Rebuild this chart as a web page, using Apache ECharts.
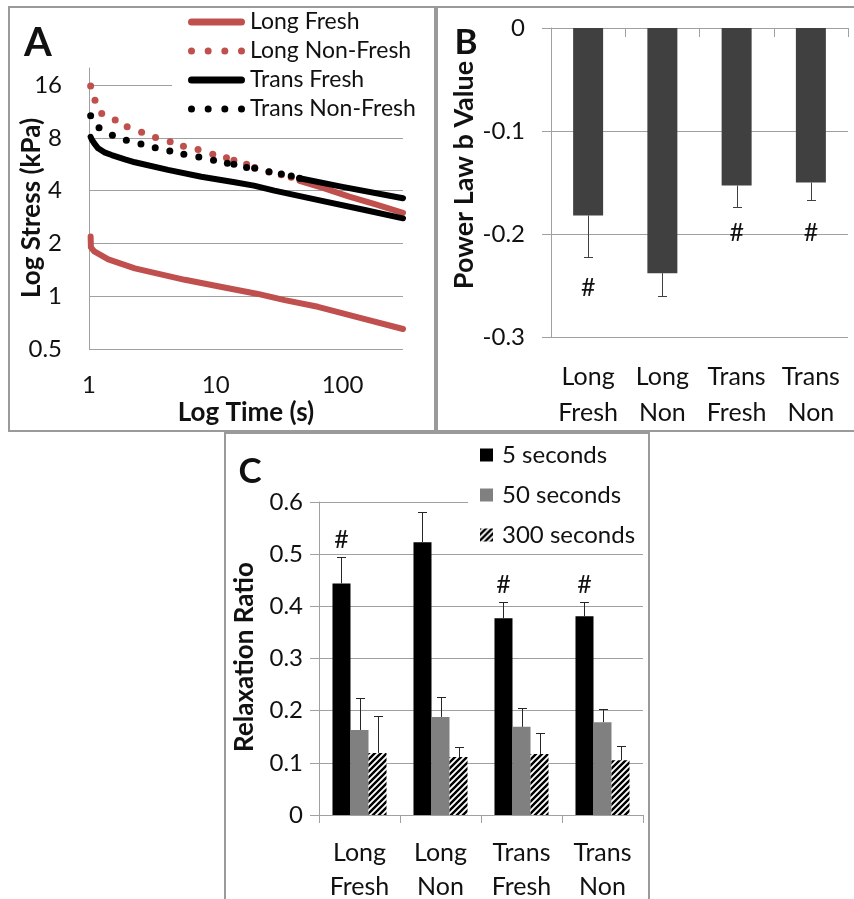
<!DOCTYPE html>
<html><head><meta charset="utf-8">
<script src="https://cdn.jsdelivr.net/npm/echarts@6/dist/echarts.min.js"></script>
<style>html,body{margin:0;padding:0;background:#fff}#c{width:854px;height:899px}</style>
</head><body><div id="c"></div>
<script>
// ---------- Panel A data (log stress vs log time) ----------
const timesLongFresh   = [1.03, 1.035, 1.1, 1.42, 2.3, 5.7, 10.4, 21.5, 35, 64, 140, 300];
const stressLongFresh  = [2.19, 1.9, 1.8, 1.62, 1.44, 1.24, 1.14, 1.03, 0.95, 0.87, 0.75, 0.65];
const timesTransFresh  = [1.03, 1.05, 1.1, 1.18, 1.34, 1.51, 1.92, 2.3, 4.2, 7.7, 14.1, 20, 29, 66, 150, 300];
const stressTransFresh = [8.1, 7.84, 7.44, 6.97, 6.58, 6.38, 6.03, 5.8, 5.25, 4.8, 4.46, 4.27, 4.0, 3.52, 3.1, 2.78];
const timesLongNonDots  = [1.03, 1.115, 1.26, 1.61, 2.0, 2.6, 3.35, 4.37, 5.56, 7.25, 9.47, 12.15, 13.9, 17.5, 20.3, 26.3, 32.9, 39.4];
const stressLongNonDots = [15.8, 13.1, 11.0, 10.1, 9.25, 8.6, 8.04, 7.6, 7.15, 6.85, 6.45, 6.16, 5.95, 5.65, 5.42, 5.1, 4.92, 4.76];
const timesLongNonTail  = [45.8, 70, 113, 180, 300];
const stressLongNonTail = [4.55, 4.15, 3.7, 3.35, 2.99];
const timesTransNonDots  = [1.03, 1.20, 1.53, 1.97, 2.57, 3.33, 4.34, 5.6, 7.35, 9.6, 12.35, 13.9, 17.5, 20.3, 26.3, 32.9, 39.4, 45.8];
const stressTransNonDots = [10.7, 9.14, 8.27, 7.74, 7.37, 7.03, 6.73, 6.45, 6.22, 5.95, 5.73, 5.65, 5.42, 5.36, 5.12, 4.98, 4.85, 4.7];
const timesTransNonTail  = [45.8, 100, 300];
const stressTransNonTail = [4.7, 4.2, 3.62];

// ---------- Panel B data (power law b value) ----------
const groupLabels = ['Long\nFresh', 'Long\nNon', 'Trans\nFresh', 'Trans\nNon'];
const bValues = [-0.182, -0.238, -0.153, -0.150];
const bSD     = [0.040, 0.022, 0.021, 0.017];
const bHash   = [-0.252, null, -0.199, -0.199];

// ---------- Panel C data (relaxation ratio) ----------
const c5s    = [0.444, 0.523, 0.377, 0.381];
const c5sSD  = [0.050, 0.057, 0.031, 0.027];
const c50s   = [0.163, 0.188, 0.169, 0.178];
const c50sSD = [0.061, 0.038, 0.036, 0.025];
const c300s  = [0.119, 0.111, 0.117, 0.105];
const c300sSD= [0.071, 0.019, 0.040, 0.027];
const cHash  = [0.527, null, 0.441, 0.441];

const FONT = 'Lato, "Open Sans", sans-serif';
const RED = '#C0504D';
const GRID_C = '#a0a0a0';
const TXT = '#111';

const pairs = (t, v) => t.map((x, i) => [x, v[i]]);

// hatch pattern
const hatch = document.createElement('canvas');
hatch.width = 6; hatch.height = 6;
(function(){
  const g = hatch.getContext('2d');
  g.fillStyle = '#fff'; g.fillRect(0,0,6,6);
  g.strokeStyle = '#000'; g.lineWidth = 2.4;
  g.beginPath();
  g.moveTo(-1,7); g.lineTo(7,-1);
  g.moveTo(-4,4); g.lineTo(4,-4);
  g.moveTo(2,10); g.lineTo(10,2);
  g.stroke();
})();
const HATCH = {image: hatch, repeat: 'repeat'};

const ICON_SOLID = 'path://M3.5,0H53.5A3.5,3.5,0,0,1,53.5,7H3.5A3.5,3.5,0,0,1,3.5,0Z';
const dotCx = [3.5, 20.17, 36.83, 53.5];
const ICON_DOTS = 'path://' + dotCx.map(c => `M${c-3.5},3.5a3.5,3.5 0 1,0 7,0a3.5,3.5 0 1,0 -7,0Z`).join('');

function solidLine(name, t, v, color, z) {
  return {type:'line', name, xAxisIndex:0, yAxisIndex:0, data: pairs(t, v),
    symbol:'none', showSymbol:false, z, silent:true,
    lineStyle:{color, width:6, cap:'round', join:'round'}, itemStyle:{color}};
}
function dotLine(name, t, v, color, z) {
  return {type:'line', name, xAxisIndex:0, yAxisIndex:0, data: pairs(t, v),
    symbol:'circle', symbolSize:7, showSymbol:true, z, silent:true,
    lineStyle:{width:0, opacity:0}, itemStyle:{color}};
}

function errRender(offsetK, color) {
  return function(params, api) {
    const cat = api.value(0), k = api.value(1);
    const band = api.size([1, 0])[0];
    const bw = offsetK ? band * (1 - 0.333) / 3 : 0;
    const p0 = api.coord([cat, api.value(2)]);
    const p1 = api.coord([cat, api.value(3)]);
    const x = Math.round(p0[0] + (k - 1) * bw) + 0.5;
    const y1 = Math.round(p1[1]) + 0.5;
    return {type:'group', children:[
      {type:'line', shape:{x1:x, y1:p0[1], x2:x, y2:y1}, style:{stroke:color, lineWidth:1}},
      {type:'line', shape:{x1:x-4.5, y1:y1, x2:x+4.5, y2:y1}, style:{stroke:color, lineWidth:1}}
    ]};
  };
}
function hashRender(offsetK) {
  return function(params, api) {
    const cat = api.value(0), k = api.value(1);
    const band = api.size([1, 0])[0];
    const bw = offsetK ? band * (1 - 0.333) / 3 : 0;
    const p = api.coord([cat, api.value(2)]);
    return {type:'text', x: p[0] + (k - 1) * bw, y: p[1],
      style:{text:'#', font:'25px ' + FONT, fill:TXT, align:'center', verticalAlign:'middle'}};
  };
}

const bErrData = bValues.map((v, i) => [i, 1, v, v - bSD[i]]);
const bHashData = bHash.map((v, i) => v == null ? null : [i, 1, v]).filter(d => d);
const cErrData = [];
[[c5s, c5sSD], [c50s, c50sSD], [c300s, c300sSD]].forEach(([vals, sds], k) => {
  vals.forEach((v, i) => cErrData.push([i, k, v, v + sds[i]]));
});
const cHashData = cHash.map((v, i) => v == null ? null : [i, 0, v]).filter(d => d);

const tickLabel = {fontFamily: FONT, fontSize: 24, color: TXT};
const catLabelB = {fontFamily: FONT, fontSize: 25, color: TXT, lineHeight: 36, margin: 22, interval: 0};
const catLabelC = {fontFamily: FONT, fontSize: 25, color: TXT, lineHeight: 34, margin: 21, interval: 0};

function txt(text, x, y, font, rot) {
  return {type:'text', x, y, rotation: rot || 0, z: 50,
    style:{text, font, fill:TXT, align:'center', verticalAlign:'middle'}};
}
function frame(x, y, w, h) {
  return {type:'rect', z: 100, shape:{x, y, width:w, height:h},
    style:{fill:'none', stroke:'#9a9a9a', lineWidth:2}};
}

const option = {
  animation: false,
  backgroundColor: '#fff',
  textStyle: {fontFamily: FONT},
  grid: [
    {left: 89, top: 68, width: 314, height: 281, outerBoundsMode: 'none'},
    {left: 551, top: 28, width: 297, height: 309, outerBoundsMode: 'none'},
    {left: 319, top: 502, width: 324, height: 313, outerBoundsMode: 'none'}
  ],
  xAxis: [
    {gridIndex: 0, type: 'log', logBase: 10, min: 1, max: 300,
      axisLine: {show: false}, axisTick: {show: false}, splitLine: {show: false},
      axisLabel: Object.assign({margin: 24, showMaxLabel: false}, tickLabel)},
    {gridIndex: 1, type: 'category', data: groupLabels, position: 'bottom',
      axisLine: {show: false, onZero: false}, axisTick: {show: false},
      axisLabel: catLabelB},
    {gridIndex: 1, type: 'category', data: groupLabels, position: 'top',
      axisLine: {show: true, onZero: false, lineStyle: {color: GRID_C}},
      axisTick: {show: true, inside: true, length: 9, lineStyle: {color: GRID_C}},
      axisLabel: {show: false}},
    {gridIndex: 2, type: 'category', data: groupLabels, position: 'bottom',
      axisLine: {show: true, lineStyle: {color: GRID_C}},
      axisTick: {show: true, length: 8, lineStyle: {color: GRID_C}},
      axisLabel: catLabelC}
  ],
  yAxis: [
    {gridIndex: 0, type: 'log', logBase: 2, min: 0.5, max: 20,
      axisLine: {show: true, lineStyle: {color: GRID_C}}, axisTick: {show: false},
      splitLine: {show: true, showMaxLine: false, lineStyle: {color: GRID_C}},
      axisLabel: Object.assign({margin: 27, showMaxLabel: false}, tickLabel)},
    {gridIndex: 1, type: 'value', min: -0.3, max: 0, interval: 0.1,
      axisLine: {show: true, lineStyle: {color: GRID_C}},
      axisTick: {show: true, length: 9, lineStyle: {color: GRID_C}},
      splitLine: {show: true, lineStyle: {color: GRID_C}},
      axisLabel: Object.assign({margin: 26}, tickLabel)},
    {gridIndex: 2, type: 'value', min: 0, max: 0.6, interval: 0.1,
      axisLine: {show: true, lineStyle: {color: GRID_C}},
      axisTick: {show: true, length: 9, lineStyle: {color: GRID_C}},
      splitLine: {show: true, lineStyle: {color: GRID_C}},
      axisLabel: Object.assign({margin: 16}, tickLabel)}
  ],
  legend: [
    {orient: 'vertical', left: 172, top: 0, padding: [10.5, 12, 6, 16],
      itemWidth: 57, itemHeight: 7, itemGap: 6, backgroundColor: '#fff', selectedMode: false,
      textStyle: {fontFamily: FONT, fontSize: 23, color: TXT},
      data: [
        {name: 'Long Fresh', icon: ICON_SOLID, itemStyle: {color: RED}},
        {name: 'Long Non-Fresh', icon: ICON_DOTS, itemStyle: {color: RED}},
        {name: 'Trans Fresh', icon: ICON_SOLID, itemStyle: {color: '#000'}},
        {name: 'Trans Non-Fresh', icon: ICON_DOTS, itemStyle: {color: '#000'}}
      ]},
    {orient: 'vertical', left: 468, top: 437, padding: [6, 10, 2, 12],
      itemWidth: 13, itemHeight: 13, itemGap: 16, backgroundColor: '#fff', selectedMode: false,
      icon: 'rect',
      textStyle: {fontFamily: FONT, fontSize: 24, color: TXT, padding: [0, 0, 0, 4]},
      data: ['5 seconds', '50 seconds', '300 seconds']}
  ],
  series: [
    solidLine('Long Fresh', timesLongFresh, stressLongFresh, RED, 2),
    dotLine('Long Non-Fresh', timesLongNonDots, stressLongNonDots, RED, 3),
    solidLine('Long Non-Fresh', timesLongNonTail, stressLongNonTail, RED, 3),
    solidLine('Trans Fresh', timesTransFresh, stressTransFresh, '#000', 4),
    dotLine('Trans Non-Fresh', timesTransNonDots, stressTransNonDots, '#000', 5),
    solidLine('Trans Non-Fresh', timesTransNonTail, stressTransNonTail, '#000', 5),

    {type: 'bar', name: 'b value', xAxisIndex: 1, yAxisIndex: 1, data: bValues,
      barCategoryGap: '59.6%', itemStyle: {color: '#404040'}, silent: true},
    {type: 'custom', xAxisIndex: 1, yAxisIndex: 1, data: bErrData, z: 5, silent: true,
      encode: {x: 0, y: [2, 3]}, renderItem: errRender(false, '#404040')},
    {type: 'custom', xAxisIndex: 1, yAxisIndex: 1, data: bHashData, z: 5, silent: true,
      encode: {x: 0, y: 2}, renderItem: hashRender(false)},

    {type: 'bar', name: '5 seconds', xAxisIndex: 3, yAxisIndex: 2, data: c5s,
      barCategoryGap: '33.3%', barGap: '0%', itemStyle: {color: '#000'}, silent: true},
    {type: 'bar', name: '50 seconds', xAxisIndex: 3, yAxisIndex: 2, data: c50s,
      barCategoryGap: '33.3%', barGap: '0%', itemStyle: {color: '#808080'}, silent: true},
    {type: 'bar', name: '300 seconds', xAxisIndex: 3, yAxisIndex: 2, data: c300s,
      barCategoryGap: '33.3%', barGap: '0%', itemStyle: {color: HATCH}, silent: true},
    {type: 'custom', xAxisIndex: 3, yAxisIndex: 2, data: cErrData, z: 5, silent: true,
      encode: {x: 0, y: [2, 3]}, renderItem: errRender(true, '#262626')},
    {type: 'custom', xAxisIndex: 3, yAxisIndex: 2, data: cHashData, z: 5, silent: true,
      encode: {x: 0, y: 2}, renderItem: hashRender(true)}
  ],
  graphic: [
    frame(9, 7, 426, 424),
    frame(437, 7, 425, 424),
    frame(225, 433, 424, 480),
    txt('A', 38, 43, 'bold 40px ' + FONT),
    txt('B', 466, 43, 'bold 35px ' + FONT),
    txt('C', 250, 472, 'bold 35px ' + FONT),
    txt('Log Time (s)', 246, 413, 'bold 26px ' + FONT),
    txt('Log Stress (kPa)', 32, 208, 'bold 26px ' + FONT, Math.PI / 2),
    txt('Power Law b Value', 464, 175, 'bold 27px ' + FONT, Math.PI / 2),
    txt('Relaxation Ratio', 245, 657, 'bold 26px ' + FONT, Math.PI / 2)
  ]
};

const chart = echarts.init(document.getElementById('c'), null, {renderer: 'canvas'});
chart.setOption(option);
</script>
</body></html>
